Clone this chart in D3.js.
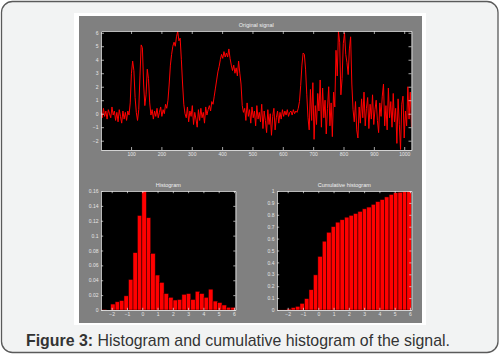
<!DOCTYPE html>
<html><head><meta charset="utf-8">
<script src="https://cdn.jsdelivr.net/npm/d3@7"></script>
<style>body{margin:0;background:#fff}svg{display:block}</style>
</head><body><svg id="c" width="501" height="355"></svg>
<script>
// ---- data ----
const signal = [
 0.1,-0.3,0.4,-0.2,0.2,-0.4,0.3,0.0,-0.3,0.5,-0.1,0.2,-0.5,0.1,-0.6,0.3,-0.2,-0.7,0.2,-0.4,0.1,-0.5,0.2,-0.1,
 0.8,3.0,3.9,3.2,1.2,0.1,-0.5,0.3,2.8,5.1,4.9,2.2,0.6,1.4,3.3,2.6,0.8,-0.1,
 0.3,-0.4,0.2,-0.2,0.4,-0.3,0.1,0.5,-0.2,0.3,0.0,
 0.7,0.4,1.0,2.2,3.6,4.4,5.0,5.3,5.0,5.7,6.1,5.4,5.6,4.0,2.2,0.7,0.0,
 -0.3,0.5,-0.6,0.2,-0.2,0.6,-0.8,0.1,-0.4,-1.0,0.3,-0.5,0.4,-0.3,0.1,-0.7,0.5,-0.1,0.3,
 0.6,0.2,0.9,
 0.7,1.3,1.9,2.5,3.1,3.5,4.0,4.4,4.1,4.6,4.2,4.5,4.2,4.8,4.1,3.6,3.2,3.6,3.0,3.4,2.8,3.9,3.0,2.2,0.6,0.1,
 0.4,-0.5,0.8,-0.2,0.3,-0.7,0.5,-0.3,0.2,-0.9,0.6,-0.4,0.1,-0.6,0.7,-1.1,0.2,-0.5,-1.4,0.3,-0.8,0.0,-1.6,-0.2,
 0.4,-1.2,-0.3,0.2,-0.7,0.1,-0.4,0.3,-0.2,0.2,-0.1,0.3,-0.2,0.1,0.2,-0.1,0.3,0.0,0.2,0.1,
 0.4,0.9,2.1,3.6,4.5,4.4,3.3,1.4,-0.3,
 -1.2,1.8,-0.5,2.3,-1.9,0.6,-0.8,1.5,0.2,2.5,-1.0,1.9,-0.3,1.0,-1.5,0.4,2.0,-0.9,0.8,-1.7,1.6,0.5,
 4.7,2.8,6.1,5.3,1.4,2.6,5.2,6.0,4.4,3.8,2.9,4.8,5.7,2.2,0.3,
 -0.6,0.9,-1.2,-1.8,0.5,-0.7,1.1,-0.3,1.6,-0.9,0.4,1.2,-1.1,0.7,-0.4,1.4,-0.8,0.3,1.0,-0.5,-1.4,0.8,-0.2,1.3,
 2.2,-0.9,0.6,-1.2,1.9,-0.3,0.9,-1.0,1.5,-0.6,0.4,-2.2,1.1,-0.8,-2.65,0.7,1.3,-1.8,0.2,-0.9,2.0,-0.4,1.6,-1.0
];
const signalXTicks = [100,200,300,400,500,600,700,800,900,1000];
const signalYTicks = [-2,-1,0,1,2,3,4,5,6];

const binCenters = [-2.50,-2.21,-1.92,-1.63,-1.34,-1.05,-0.75,-0.46,-0.17,0.12,0.41,0.70,0.99,1.28,1.57,
                    1.87,2.16,2.45,2.74,3.03,3.32,3.61,3.90,4.19,4.48,4.78,5.07,5.36,5.65,5.94];
const histValues = [0.001,0,0.008,0.011,0.0126,0.019,0.041,0.077,0.127,0.162,0.124,0.076,0.047,0.037,0.022,
                    0.017,0.0134,0.014,0.021,0.022,0.014,0.025,0.022,0.017,0.028,0.012,0.0099,0.0067,0.0036,0.0036];
const cumValues  = [0.001,0.001,0.01,0.02,0.03,0.055,0.095,0.17,0.295,0.45,0.578,0.653,0.70,0.738,0.758,
                    0.78,0.795,0.81,0.828,0.85,0.865,0.887,0.91,0.927,0.95,0.97,0.985,0.99,0.997,1.0];
const binXTicks = [-2,-1,0,1,2,3,4,5,6];
const histYTicks = [0,0.02,0.04,0.06,0.08,0.1,0.12,0.14,0.16];
const cumYTicks = [0,0.1,0.2,0.3,0.4,0.5,0.6,0.7,0.8,0.9,1];

const titles = ["Original signal","Histogram","Cumulative histogram"];
const captionBold = "Figure 3:";
const captionText = " Histogram and cumulative histogram of the signal.";

// ---- drawing ----
const svg = d3.select("#c");
const FONT = "'Liberation Sans', Arial, sans-serif";

svg.append("rect").attr("x",1.5).attr("y",1.5).attr("width",496.5).attr("height",351)
  .attr("rx",11).attr("fill","#f2f3f3").attr("stroke","#5a5a5a").attr("stroke-width",1.3);
svg.append("rect").attr("x",74).attr("y",13).attr("width",352).attr("height",312).attr("fill","#ffffff");
svg.append("rect").attr("x",79).attr("y",16).attr("width",343).attr("height",307).attr("fill","#808080");

const cap = svg.append("text").attr("x",26).attr("y",346)
  .attr("font-family",FONT).attr("font-size",15.9).attr("fill","#333");
cap.append("tspan").attr("font-weight","bold").text(captionBold);
cap.append("tspan").text(captionText);

let clipId = 0;
function panel(box, x, y, xTicks, yTicks, fmtX, fmtY, tickLen, title, drawFn) {
  const g = svg.append("g");
  g.append("rect").attr("x",box.x0).attr("y",box.y0).attr("width",box.x1-box.x0).attr("height",box.y1-box.y0).attr("fill","#000");
  const id = "clip"+(clipId++);
  svg.append("clipPath").attr("id",id).append("rect")
    .attr("x",box.x0).attr("y",box.y0).attr("width",box.x1-box.x0).attr("height",box.y1-box.y0);
  const inner = g.append("g").attr("clip-path",`url(#${id})`);
  drawFn(inner);
  const style = a => {
    a.selectAll("path.domain").attr("stroke","#e8e8e8").attr("stroke-width",0.8);
    a.selectAll(".tick line").attr("stroke","#e8e8e8").attr("stroke-width",0.7);
    a.selectAll(".tick text").attr("fill","#e6e6e6").attr("font-size",5).attr("font-family",FONT);
    a.attr("font-size",5).attr("font-family",FONT);
  };
  g.append("g").attr("transform",`translate(0,${box.y1})`)
    .call(d3.axisBottom(x).tickValues(xTicks).tickFormat(fmtX).tickSize(-tickLen).tickPadding(2.2).tickSizeOuter(0)).call(style);
  g.append("g").attr("transform",`translate(0,${box.y0})`)
    .call(d3.axisTop(x).tickValues(xTicks).tickFormat("").tickSize(-tickLen).tickSizeOuter(0)).call(style);
  g.append("g").attr("transform",`translate(${box.x0},0)`)
    .call(d3.axisLeft(y).tickValues(yTicks).tickFormat(fmtY).tickSize(-tickLen).tickPadding(2.5).tickSizeOuter(0)).call(style);
  g.append("g").attr("transform",`translate(${box.x1},0)`)
    .call(d3.axisRight(y).tickValues(yTicks).tickFormat("").tickSize(-tickLen).tickSizeOuter(0)).call(style);
  g.append("text").attr("x",(box.x0+box.x1)/2).attr("y",box.y0-4.2).attr("text-anchor","middle")
    .attr("font-family",FONT).attr("font-size",5.5).attr("fill","#f0f0f0").text(title);
}

// Top: original signal
const b1 = {x0:101,x1:411.5,y0:31,y1:150};
const x1 = d3.scaleLinear().domain([1,1024]).range([b1.x0,b1.x1]);
const y1 = d3.scaleLinear().domain([-2.69,6.13]).range([b1.y1,b1.y0]);
const idx = d3.scaleLinear().domain([0,signal.length-1]).range([1,1024]);
panel(b1,x1,y1,signalXTicks,signalYTicks,d3.format("d"),d3.format("d"),3,titles[0], g => {
  g.append("path").datum(signal)
    .attr("d", d3.line().x((d,i)=>x1(idx(i))).y(d=>y1(d)))
    .attr("fill","none").attr("stroke","#ff0000").attr("stroke-width",1.0).attr("stroke-linejoin","round");
});

// Histogram panels
const binW = 0.291;
function bars(box, values, ymax, yTicks, fmtY, title) {
  const x = d3.scaleLinear().domain([-2.7,6.1]).range([box.x0,box.x1]);
  const y = d3.scaleLinear().domain([0,ymax]).range([box.y1,box.y0]);
  panel(box,x,y,binXTicks,yTicks,d3.format("d"),fmtY,2.2,title, g => {
    g.selectAll("rect.bar").data(values).join("rect").attr("class","bar")
      .attr("x",(d,i)=>x(binCenters[i]-binW/2))
      .attr("width",(d,i)=>x(binCenters[i]+binW/2)-x(binCenters[i]-binW/2))
      .attr("y",d=>y(d)).attr("height",d=>box.y1-y(d))
      .attr("fill","#ff0000").attr("stroke","#1a0000").attr("stroke-width",0.5);
  });
}
bars({x0:101,x1:235.5,y0:191,y1:310}, histValues, 0.16, histYTicks, d3.format("~g"), titles[1]);
bars({x0:277,x1:411.5,y0:191,y1:310}, cumValues, 1, cumYTicks, d3.format("~g"), titles[2]);
</script></body></html>
